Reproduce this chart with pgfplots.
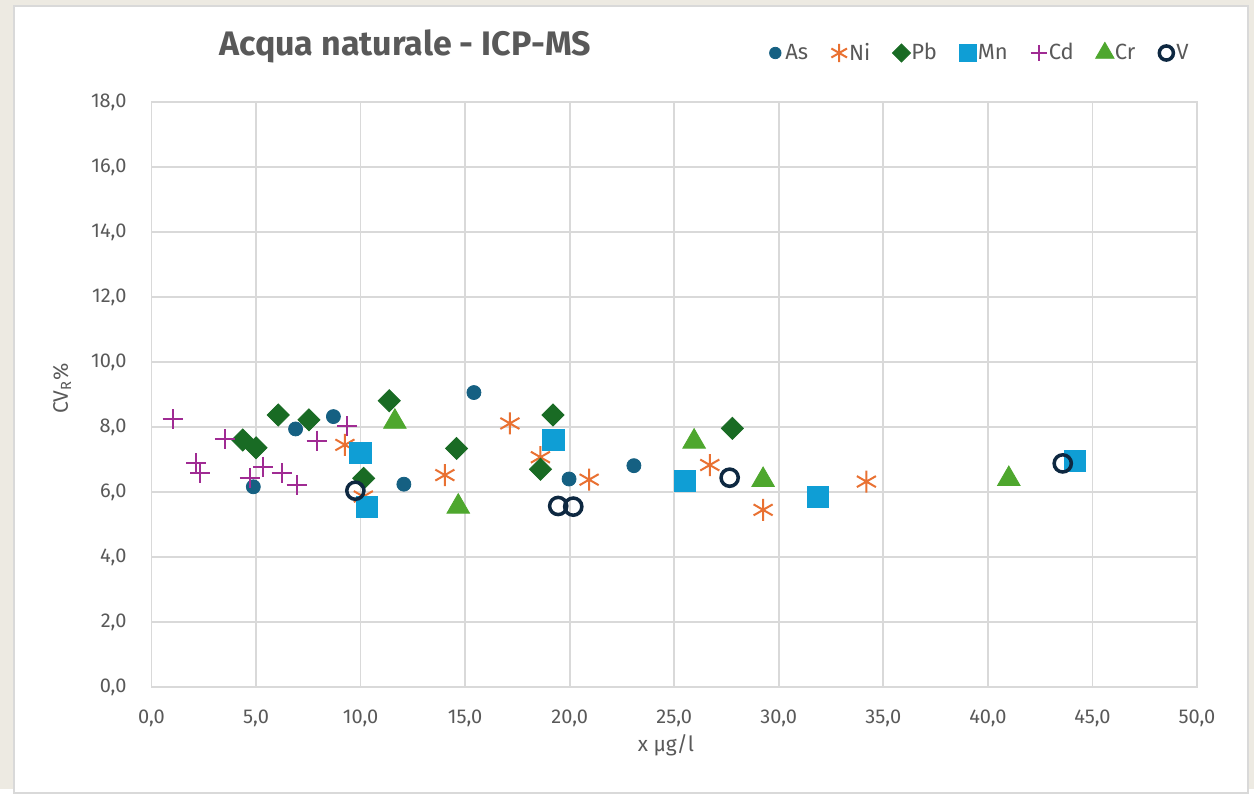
\documentclass[border=0pt]{standalone}
\usepackage{fontspec}
\setmainfont{Fira Sans}
\usepackage{pgfplots}
\pgfplotsset{compat=1.18}
\definecolor{cAs}{HTML}{156082}
\definecolor{cNi}{HTML}{E97132}
\definecolor{cPb}{HTML}{196B24}
\definecolor{cMn}{HTML}{0F9ED5}
\definecolor{cCd}{HTML}{A02B93}
\definecolor{cCr}{HTML}{4EA72E}
\definecolor{cV}{HTML}{0E2841}
\definecolor{gridgray}{HTML}{D9D9D9}
\definecolor{labgray}{HTML}{595959}
\definecolor{beige}{HTML}{EDEAE2}
\begin{document}
\begin{tikzpicture}
\fill[beige] (0,0) rectangle (627pt,394.5pt);
\fill[white, draw=gridgray, line width=0.6pt] (7pt,-2pt) rectangle (624pt,391.5pt);
\useasboundingbox (0,0) rectangle (627pt,394.5pt);
\begin{axis}[
  at={(75.75pt,51pt)}, anchor=south west,
  scale only axis, width=522.75pt, height=292.5pt,
  xmin=0, xmax=50, ymin=0, ymax=18,
  xtick distance=5, ytick distance=2,
  grid=major, grid style={gridgray, line width=0.9pt},
  axis line style={gridgray, line width=0.9pt},
  major tick length=0pt,
  /pgf/number format/.cd, fixed, fixed zerofill, precision=1, use comma, assume math mode=true,
  /pgfplots/.cd,
  tick label style={font=\fontsize{10}{12}\selectfont, text=labgray},
  xticklabel style={yshift=-8pt},
  yticklabel style={xshift=-9pt},
  xlabel={x µg/l},
  ylabel={CV\textsubscript{R}\%},
  label style={font=\fontsize{10.5}{12}\selectfont, text=labgray},
  xlabel style={at={(axis description cs:0.492,0)}, anchor=center, yshift=-29pt},
  ylabel style={at={(axis description cs:-0.0856,0.51)}, anchor=center},
  title={Acqua naturale - ICP-MS},
  title style={at={(axis description cs:0.2425,1.0598)}, anchor=base, font=\bfseries\fontsize{17}{20}\selectfont, text=labgray},
  legend columns=-1,
  legend style={draw=none, fill=none, at={(axis description cs:1,1)}, anchor=east, yshift=24.5pt,
    font=\fontsize{11}{13}\selectfont, text=labgray,
    nodes={inner xsep=1pt, inner ysep=1pt},
    /tikz/every odd column/.append style={column sep=0pt},
    /tikz/every even column/.append style={column sep=10.5pt}},
  legend image code/.code={%
    \draw[#1, overlay, shift={(4pt,0pt)}, scale=0.82] plot coordinates {(0,0)};
    \path[draw=none, fill=none] (0,-3pt) rectangle (8pt,3pt);},
]
\addplot[only marks, mark=*, mark size=3.5pt, color=cAs] coordinates {
(4.87,6.16) (6.89,7.94) (8.70,8.32) (12.07,6.24) (15.42,9.06) (19.97,6.40) (23.07,6.81)};
\addlegendentry{As}
\addplot[only marks, mark=asterisk, mark size=5.5pt, color=cNi, mark options={line width=1pt}] coordinates {
(9.25,7.45) (10.13,5.86) (14.03,6.52) (17.14,8.11) (18.60,7.07) (20.93,6.38) (26.70,6.83) (29.25,5.45) (34.19,6.32)};
\addlegendentry{Ni}
\addplot[only marks, mark=square*, mark size=3.9pt, color=cPb, mark options={rotate=45}] coordinates {
(4.36,7.60) (5.00,7.36) (6.06,8.37) (7.53,8.22) (10.15,6.42) (11.37,8.81) (14.59,7.34) (18.60,6.70) (19.20,8.37) (27.78,7.96)};
\addlegendentry{Pb}
\addplot[only marks, mark=square*, mark size=5.3pt, color=cMn] coordinates {
(9.99,7.20) (10.29,5.55) (19.22,7.60) (25.50,6.35) (31.87,5.84) (44.17,6.96)};
\addlegendentry{Mn}
\addplot[only marks, mark=+, mark size=5pt, color=cCd, mark options={line width=1pt}] coordinates {
(1.01,8.24) (2.13,6.88) (2.32,6.57) (3.51,7.62) (4.71,6.42) (5.35,6.78) (6.22,6.57) (6.94,6.22) (7.90,7.58) (9.37,8.02)};
\addlegendentry{Cd}
\addplot[only marks, mark=triangle*, mark size=6.5pt, color=cCr] coordinates {
(11.64,8.16) (14.67,5.55) (25.95,7.55) (29.25,6.37) (41.00,6.40)};
\addlegendentry{Cr}
\addplot[only marks, mark=o, mark size=4.3pt, color=cV, mark options={line width=1.75pt}] coordinates {
(9.75,6.04) (19.45,5.57) (20.17,5.55) (27.65,6.44) (43.58,6.88)};
\addlegendentry{V}
\end{axis}
\end{tikzpicture}
\end{document}
